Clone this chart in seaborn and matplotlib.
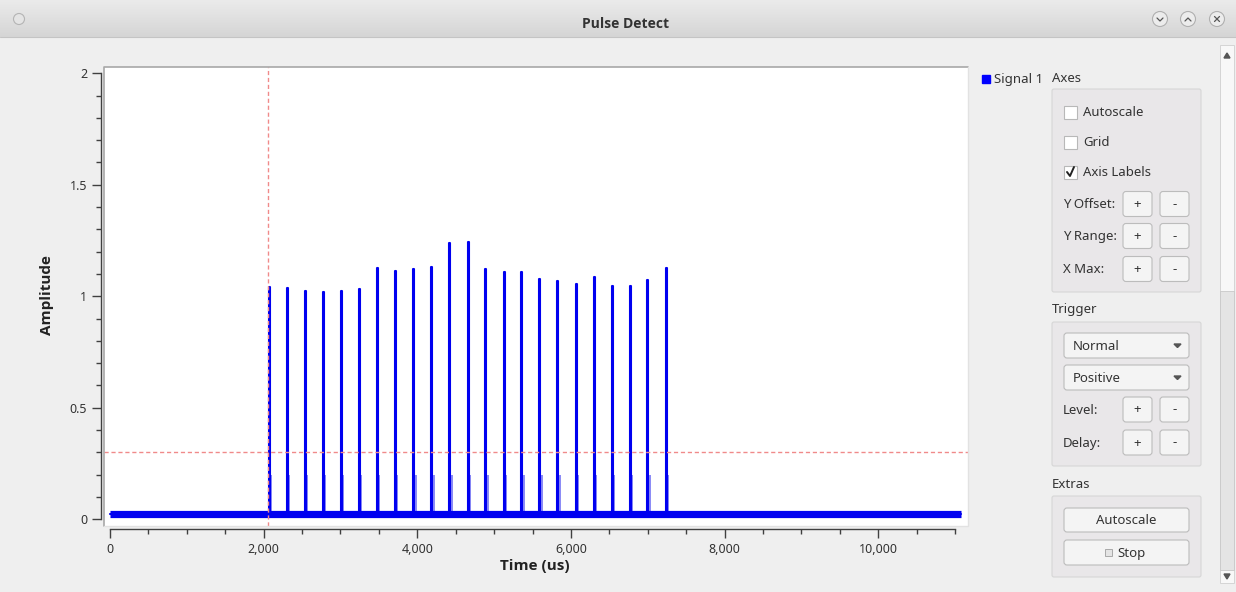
import numpy as np
import pandas as pd
import matplotlib
matplotlib.use("Agg")
import matplotlib.pyplot as plt
from matplotlib.patches import Rectangle, FancyBboxPatch, Circle, Polygon
from matplotlib import font_manager
import seaborn as sns

# ---------------- data ----------------
pulse_times_us = [2065, 2305, 2534, 2768, 3003, 3242, 3476, 3711, 3949, 4183, 4417, 4656,
                  4886, 5125, 5355, 5589, 5823, 6062, 6301, 6535, 6764, 6994, 7233]
pulse_peaks = [1.042, 1.038, 1.025, 1.018, 1.022, 1.034, 1.126, 1.112, 1.121, 1.130, 1.238, 1.242,
               1.121, 1.108, 1.108, 1.079, 1.067, 1.054, 1.088, 1.048, 1.048, 1.071, 1.126]
baseline_level = 0.025
trace_end_us = 11070
trigger_delay_us = 2055
trigger_level = 0.3
y_ticks = [0, 0.5, 1, 1.5, 2]
y_tick_labels = ["0", "0.5", "1", "1.5", "2"]
x_ticks = [0, 2000, 4000, 6000, 8000, 10000]
x_tick_labels = ["0", "2,000", "4,000", "6,000", "8,000", "10,000"]
series_name = "Signal 1"

# build the trace from the pulse list
tx = [0.0]
ty = [baseline_level]
for t, p in zip(pulse_times_us, pulse_peaks):
    tx += [t, t, t + 12, t + 12]
    ty += [baseline_level, p, p, baseline_level]
tx.append(trace_end_us)
ty.append(baseline_level)
trace = pd.DataFrame({"Time (us)": tx, "Amplitude": ty})
base_df = pd.DataFrame({"Time (us)": [0, trace_end_us], "Amplitude": [baseline_level, baseline_level]})

# ---------------- style ----------------
sns.set_style("white")
plt.rcParams["font.family"] = ["Noto Sans", "DejaVu Sans"]

# pick a family that really has a bold face
def has_bold(fam):
    for f in font_manager.fontManager.ttflist:
        if f.name == fam and (f.weight in ("bold", 700, 600, "semibold", "demibold") or
                              (isinstance(f.weight, int) and f.weight >= 600)):
            return True
    return False

bold_family = "DejaVu Sans"
for fam in ("Noto Sans", "Open Sans", "Lato", "Roboto", "Liberation Sans"):
    if has_bold(fam):
        bold_family = fam
        break

W, H = 1236, 592
fig = plt.figure(figsize=(W / 100, H / 100), dpi=100, facecolor="#efefef")

# overlay for window chrome (pixel coordinates)
ov = fig.add_axes([0, 0, 1, 1], zorder=0)
ov.set_xlim(0, W)
ov.set_ylim(H, 0)
ov.axis("off")

# title bar gradient
grad = np.linspace(0, 1, 64).reshape(-1, 1)
ov.imshow(grad, extent=[0, W, 37, 0], cmap=matplotlib.colors.LinearSegmentedColormap.from_list(
    "tb", ["#ebebeb", "#d5d5d5"]), aspect="auto", zorder=0)
ov.plot([0, W], [37, 37], color="#c4c4c4", lw=0.8)
ov.set_xlim(0, W)
ov.set_ylim(H, 0)
ov.text(626, 24, "Pulse Detect", ha="center", va="center", fontsize=10, fontweight="bold",
        family=bold_family, color="#333333")
ov.add_patch(Circle((19, 19), 5.5, facecolor="#e4e4e4", edgecolor="#b4b4b4", lw=0.8))
for cx in (1160, 1188, 1217):
    ov.add_patch(Circle((cx, 19), 7.5, facecolor="#ececec", edgecolor="#b0b0b0", lw=0.8))
ov.plot([1157, 1160, 1163], [18, 21, 18], color="#555555", lw=0.9)
ov.plot([1185, 1188, 1191], [21, 18, 21], color="#555555", lw=0.9)
ov.plot([1214.5, 1219.5], [16.5, 21.5], color="#555555", lw=0.9)
ov.plot([1214.5, 1219.5], [21.5, 16.5], color="#555555", lw=0.9)

# scrollbar
ov.add_patch(Rectangle((1220, 45), 14, 538, facecolor="#f8f8f8", edgecolor="#d0d0d0", lw=0.6))
ov.add_patch(Rectangle((1220, 291), 14, 279, facecolor="#e4e4e4", edgecolor="#c8c8c8", lw=0.6))
ov.add_patch(Polygon([[1224, 58], [1230, 58], [1227, 53]], closed=True, color="#555555"))
ov.add_patch(Polygon([[1224, 574], [1230, 574], [1227, 579]], closed=True, color="#555555"))

fs = 9.5
txt = "#333333"

def button(x0, y0, x1, y1, label=None, ha="center", lx=None):
    ov.add_patch(FancyBboxPatch((x0, y0), x1 - x0, y1 - y0,
                                boxstyle="round,pad=0,rounding_size=3",
                                facecolor="#f4f4f4", edgecolor="#bcbcbc", lw=0.8))
    if label is not None:
        xx = (x0 + x1) / 2 if lx is None else lx
        ov.text(xx, (y0 + y1) / 2 + 0.5, label, ha=ha, va="center", fontsize=fs, color=txt)

def groupbox(x0, y0, x1, y1):
    ov.add_patch(FancyBboxPatch((x0, y0), x1 - x0, y1 - y0,
                                boxstyle="round,pad=0,rounding_size=2",
                                facecolor="#e9e7e9", edgecolor="#d6d6d6", lw=0.8))

# legend entry
ov.add_patch(Rectangle((982, 75), 8, 8, color="#0000ff"))
ov.text(994, 79.5, series_name, ha="left", va="center", fontsize=fs, color=txt)

# Axes group
ov.text(1052, 78.5, "Axes", ha="left", va="center", fontsize=fs, color=txt)
groupbox(1052, 89, 1201, 292)
for yc, lab in ((112, "Autoscale"), (142, "Grid"), (172, "Axis Labels")):
    ov.add_patch(Rectangle((1064, yc - 6.5), 13, 13, facecolor="white", edgecolor="#b8b8b8", lw=0.8))
    ov.text(1083, yc + 0.5, lab, ha="left", va="center", fontsize=fs, color=txt)
ov.plot([1067, 1070, 1074], [172, 176, 167], color="#222222", lw=1.4)
for yc, lab in ((204, "Y Offset:"), (236, "Y Range:"), (269, "X Max:")):
    ov.text(1063, yc + 0.5, lab, ha="left", va="center", fontsize=fs, color=txt)
    button(1123, yc - 12.5, 1152, yc + 12.5, "+")
    button(1160, yc - 12.5, 1189, yc + 12.5, "-")

# Trigger group
ov.text(1052, 310, "Trigger", ha="left", va="center", fontsize=fs, color=txt)
groupbox(1052, 322, 1201, 466)
for yc, lab in ((345.5, "Normal"), (377.5, "Positive")):
    button(1064, yc - 12.5, 1189, yc + 12.5, lab, ha="left", lx=1073)
    ov.add_patch(Polygon([[1174, yc - 1.5], [1181, yc - 1.5], [1177.5, yc + 2]], closed=True, color="#555555"))
for yc, lab in ((409.5, "Level:"), (442.5, "Delay:")):
    ov.text(1063, yc + 0.5, lab, ha="left", va="center", fontsize=fs, color=txt)
    button(1123, yc - 12.5, 1152, yc + 12.5, "+")
    button(1160, yc - 12.5, 1189, yc + 12.5, "-")

# Extras group
ov.text(1052, 485, "Extras", ha="left", va="center", fontsize=fs, color=txt)
groupbox(1052, 496, 1201, 577)
button(1064, 508, 1189, 532, "Autoscale")
button(1064, 540, 1189, 565)
ov.add_patch(Rectangle((1105, 549), 7, 7, facecolor="#e4e4e4", edgecolor="#a8a8a8", lw=0.7))
ov.text(1117, 553, "Stop", ha="left", va="center", fontsize=fs, color=txt)

# ---------------- plot canvas ----------------
L, R, T, B = 104, 968, 67, 526
ax = fig.add_axes([L / W, (H - B) / H, (R - L) / W, (B - T) / H], zorder=1)
ax.set_facecolor("white")

x0_px, px_per_us = 110.0, 0.07683
y0_px, px_per_amp = 519.3, 223.0
ax.set_xlim((L - x0_px) / px_per_us, (R - x0_px) / px_per_us)
ax.set_ylim((y0_px - B) / px_per_amp, (y0_px - T) / px_per_amp)

blue = "#0000f0"
light = "#8c8cf6"
for t in pulse_times_us:
    ax.fill_between([t, t + 42], baseline_level, 0.2, color=light, lw=0, zorder=2)

sns.lineplot(data=base_df, x="Time (us)", y="Amplitude", ax=ax, color=blue, lw=5.2,
             estimator=None, sort=False, zorder=3, solid_capstyle="butt")
sns.lineplot(data=trace, x="Time (us)", y="Amplitude", ax=ax, color=blue, lw=1.5,
             estimator=None, sort=False, zorder=4)

# trigger markers
ax.axhline(trigger_level, color="#f08a8a", lw=1.0, ls=(0, (3, 2)), zorder=5)
ax.axvline(trigger_delay_us, color="#f08a8a", lw=1.0, ls=(0, (3, 2)), zorder=5)

# axes (Qwt-like scales)
for s in ("top", "right"):
    ax.spines[s].set_visible(False)
ax.spines["left"].set_position(("outward", 2.0))
ax.spines["bottom"].set_position(("outward", 2.2))
ax.spines["left"].set_bounds(0, 2)
ax.spines["bottom"].set_bounds(0, 11000)
for s in ("left", "bottom"):
    ax.spines[s].set_color("#404040")
    ax.spines[s].set_linewidth(1.0)

ax.set_yticks(y_ticks)
ax.set_yticklabels(y_tick_labels)
ax.set_yticks(np.arange(0, 2.01, 0.1), minor=True)
ax.set_xticks(x_ticks)
ax.set_xticklabels(x_tick_labels)
ax.set_xticks(np.arange(0, 11001, 500), minor=True)
ax.tick_params(axis="both", which="major", direction="out", length=6.5, width=1.0,
               color="#404040", labelsize=9, labelcolor="#333333", pad=3.5,
               left=True, bottom=True)
ax.tick_params(axis="both", which="minor", direction="out", length=3.8, width=1.0,
               color="#404040", left=True, bottom=True)

# sunken canvas frame
ax.plot([0, 0, 1], [0, 1, 1], transform=ax.transAxes, color="#a8a8a8", lw=1.2, clip_on=False, zorder=6)
ax.plot([0, 1, 1], [0, 0, 1], transform=ax.transAxes, color="#e2e2e2", lw=1.0, clip_on=False, zorder=6)

ax.set_ylabel("Amplitude", fontsize=11, fontweight="bold", family=bold_family, color="#222222")
ax.set_xlabel("Time (us)", fontsize=11, fontweight="bold", family=bold_family, color="#222222")
ax.yaxis.label.set_va("center")
ax.xaxis.label.set_va("center")
ax.yaxis.set_label_coords((47 - L) / (R - L), (B - 295) / (B - T))
ax.xaxis.set_label_coords((535 - L) / (R - L), (B - 566) / (B - T))
if ax.get_legend():
    ax.get_legend().remove()

fig.savefig("out.png", dpi=100, facecolor=fig.get_facecolor())
